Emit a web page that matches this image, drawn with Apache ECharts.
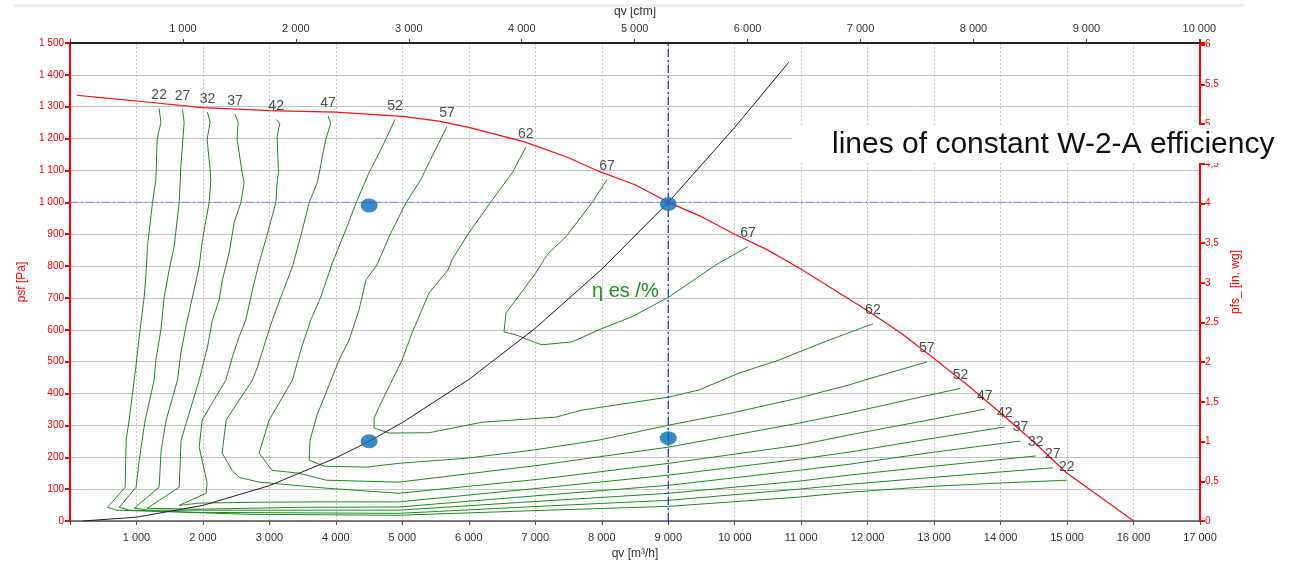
<!DOCTYPE html>
<html>
<head>
<meta charset="utf-8">
<script src="https://cdn.jsdelivr.net/npm/echarts@6/dist/echarts.min.js"></script>
<style>
html,body{margin:0;padding:0;background:#fff;}
#chart{width:1299px;height:561px;}
</style>
</head>
<body>
<div id="chart"></div>
<script>
// ---- data (qv in m3/h, psf in Pa) ----
const levels = [22, 27, 32, 37, 42, 47, 52, 57, 62, 67];

const c22 = [[1341,1295],[1367,1251],[1311,1197],[1292,1071],[1241,999],[1165,861],[1141,766],[1116,703],[1041,578],[991,483],[965,442],[890,317],[845,254],[830,106],[564,43],[695,34],[1191,31],[2695,21],[4950,18],[7056,33],[9011,46],[10966,75],[11718,90],[12996,109],[13973,119],[14996,128]];
const c27 = [[1692,1292],[1717,1251],[1668,1112],[1642,999],[1567,861],[1492,788],[1417,703],[1367,600],[1292,505],[1266,442],[1131,317],[1041,191],[995,106],[740,43],[890,34],[1943,27],[4950,24],[7056,46],[9011,65],[10966,100],[11718,115],[12996,137],[14785,167]];
const c32 = [[2068,1283],[2108,1251],[2063,1197],[2104,1112],[2119,1071],[2093,999],[1993,883],[1943,798],[1842,703],[1743,609],[1668,527],[1617,442],[1447,317],[1371,222],[1341,106],[965,40],[1191,34],[2695,34],[4950,34],[7056,62],[9011,87],[10966,125],[11718,144],[12996,172],[14529,204]];
const c37 = [[2484,1276],[2529,1251],[2514,1197],[2590,1093],[2620,1062],[2570,999],[2469,936],[2394,842],[2293,757],[2244,694],[2143,631],[2068,546],[1993,483],[1943,442],[1762,317],[1672,254],[1642,106],[1161,40],[1943,37],[3447,43],[4950,44],[7056,80],[9011,112],[10966,159],[11718,178],[12996,216],[14299,251]];
const c42 = [[3101,1260],[3156,1248],[3116,1207],[3135,1093],[3120,1071],[3096,999],[2946,883],[2845,810],[2744,725],[2645,631],[2544,578],[2444,515],[2344,442],[1988,317],[1943,232],[2063,119],[2048,87],[1642,49],[1943,56],[2845,59],[3898,60],[4950,60],[7056,103],[9011,144],[10966,194],[11718,216],[12996,260],[14064,295]];
const c47 = [[3883,1270],[3923,1248],[3848,1197],[3797,1144],[3722,1062],[3597,999],[3496,914],[3346,798],[3196,716],[3045,631],[2946,568],[2820,483],[2744,442],[2349,317],[2289,213],[2439,159],[2544,137],[2845,122],[3853,103],[4950,87],[7056,131],[9011,181],[10966,238],[11718,270],[12996,320],[13763,351]];
const c52 = [[4890,1260],[4699,1175],[4499,1093],[4323,1008],[4149,914],[3947,810],[3773,703],[3623,631],[3472,537],[3346,442],[2996,317],[2845,213],[3041,159],[3447,150],[3853,128],[4950,122],[7056,175],[9011,232],[10966,307],[11718,339],[12996,398],[13397,416]];
const c57 = [[5672,1238],[5447,1144],[5277,1071],[5056,999],[4800,892],[4620,804],[4454,757],[4349,663],[4199,568],[4048,505],[3898,427],[3717,332],[3612,254],[3597,191],[3823,172],[4454,169],[4950,181],[5958,197],[6951,222],[7958,254],[9011,301],[9958,339],[10966,386],[11718,427],[12064,449],[12891,499]];
const c62 = [[6856,1172],[6654,1093],[6354,1008],[6003,905],[5748,820],[5687,788],[5402,716],[5146,590],[4996,505],[4650,358],[4575,323],[4575,292],[4800,276],[5402,277],[6199,310],[7311,326],[7702,348],[9011,389],[9462,411],[10064,464],[10665,505],[11311,559],[12079,619]];
const c67 = [[8078,1071],[7853,999],[7462,892],[7206,842],[7131,820],[7011,779],[6560,653],[6529,593],[6710,584],[7011,559],[7101,553],[7552,562],[7958,600],[8454,641],[9011,703],[9718,804],[10199,861]];

const fanCurve = [[100,1336],[500,1328],[1000,1318],[2000,1297],[3000,1288],[4000,1283],[5000,1270],[5550,1255],[6000,1235],[6850,1189],[7500,1140],[7960,1097],[8500,1055],[9000,1000],[9500,955],[10000,900],[10500,850],[11000,790],[11500,725],[12000,660],[12500,590],[13000,510],[13500,427],[14000,339],[14500,248],[15000,150],[15500,75],[16000,0]];
const systemCurve = [[190,0],[1000,12],[2000,49],[3000,111],[4000,198],[4500,250],[5000,309],[6000,444],[7000,605],[8000,790],[9000,1000],[10000,1235],[10815,1440]];
const opPoints = [[4500,990],[9000,995],[4500,250],[9000,260]];
const refH = [[0,1000],[17000,1000]];
const refV = [[9000,0],[9000,1500]];

const CFM = 1.699;      // m3/h per cfm
const INWG = 249.09;    // Pa per in. wg

// ---- helpers ----
const contours = [c22, c27, c32, c37, c42, c47, c52, c57, c62, c67];
const FONT = 'Liberation Sans, Arial, sans-serif';
function thou(v){ return String(Math.round(v)).replace(/\B(?=(\d{3})+(?!\d))/g, ' '); }

const greenSeries = contours.map((c, i) => ({
  type: 'line', name: 'eta' + levels[i], data: c, showSymbol: false, symbol: 'none',
  lineStyle: { color: '#1e8c1e', width: 1 }, silent: true, z: 3
}));
const labelData = [];
contours.forEach((c, i) => {
  labelData.push({ value: c[0], name: String(levels[i]) });
  labelData.push({ value: c[c.length - 1], name: String(levels[i]) });
});

const chart = echarts.init(document.getElementById('chart'), null, { renderer: 'canvas' });
chart.setOption({
  animation: false,
  backgroundColor: '#fff',
  grid: { left: 70, right: 99, top: 43, bottom: 40, outerBoundsMode: 'none' },
  xAxis: [
    {
      type: 'value', position: 'bottom', min: 0, max: 17000, interval: 1000,
      name: 'qv [m³/h]', nameLocation: 'middle', nameGap: 26,
      nameTextStyle: { color: '#333', fontSize: 12, fontFamily: FONT },
      axisLine: { show: true, onZero: false, lineStyle: { color: '#555', width: 1.5 } },
      axisTick: { show: true, length: 4, lineStyle: { color: '#555' } },
      axisLabel: { color: '#333', fontSize: 11, fontFamily: FONT, margin: 11,
        formatter: v => (v === 0 || v % 1000 !== 0) ? '' : thou(v) },
      splitLine: { show: true, lineStyle: { color: '#c8c8c8', type: [2, 2], width: 1 } }
    },
    {
      type: 'value', position: 'top', min: 0, max: 17000 / CFM, interval: 1000,
      name: 'qv [cfm]', nameLocation: 'middle', nameGap: 23,
      nameTextStyle: { color: '#333', fontSize: 12, fontFamily: FONT },
      axisLine: { show: true, onZero: false, lineStyle: { color: '#222', width: 2 } },
      axisTick: { show: true, length: 4, lineStyle: { color: '#444' } },
      axisLabel: { color: '#333', fontSize: 11, fontFamily: FONT, margin: 9,
        formatter: v => (v === 0 || Math.abs(v % 1000) > 1e-6) ? '' : thou(v) },
      splitLine: { show: false }
    }
  ],
  yAxis: [
    {
      type: 'value', position: 'left', min: 0, max: 1500, interval: 100,
      name: 'psf [Pa]', nameLocation: 'middle', nameGap: 40, nameRotate: 90,
      nameTextStyle: { color: '#ff0000', fontSize: 12, fontFamily: FONT },
      axisLine: { show: true, onZero: false, lineStyle: { color: '#ff0000', width: 2 } },
      axisTick: { show: true, length: 5, lineStyle: { color: '#ff0000', width: 2 } },
      axisLabel: { color: '#ff0000', fontSize: 10, fontFamily: FONT, margin: 6, formatter: v => thou(v) },
      splitLine: { show: true, lineStyle: { color: '#c4c4c4', width: 1 } }
    },
    {
      type: 'value', position: 'right', min: 0, max: 1500 / INWG, interval: 0.5,
      name: 'pfs_ [in. wg]', nameLocation: 'middle', nameGap: 30, nameRotate: 90,
      nameTextStyle: { color: '#ff0000', fontSize: 12, fontFamily: FONT },
      axisLine: { show: true, onZero: false, lineStyle: { color: '#ff0000', width: 2 } },
      axisTick: { show: true, length: 5, lineStyle: { color: '#ff0000', width: 2 } },
      axisLabel: { color: '#ff0000', fontSize: 10, fontFamily: FONT, margin: 5,
        formatter: v => Math.abs(v * 2 - Math.round(v * 2)) > 1e-6 ? '' : String(Math.round(v * 2) / 2).replace('.', ',') },
      splitLine: { show: false }
    }
  ],
  graphic: [
    { type: 'rect', shape: { x: 14, y: 4, width: 1231, height: 3 }, style: { fill: '#f0f0f0' }, z: 1 },
    { type: 'rect', shape: { x: 792, y: 125, width: 507, height: 38 }, style: { fill: '#ffffff' }, z: 100 },
    { type: 'text', x: 832, y: 145, z: 101,
      style: { text: 'lines of constant W-2-A efficiency', fill: '#111', font: '30px ' + FONT, textVerticalAlign: 'middle' } },
    { type: 'text', x: 592, y: 291, z: 50,
      style: { text: 'η es /%', fill: '#1f8f1f', font: '20px ' + FONT, textVerticalAlign: 'middle' } }
  ],
  series: [
    ...greenSeries,
    { type: 'line', name: 'refH', data: refH, showSymbol: false, symbol: 'none', silent: true, z: 4,
      lineStyle: { color: '#7f7fff', width: 1, type: [8, 3, 2, 3] } },
    { type: 'line', name: 'refV', data: refV, showSymbol: false, symbol: 'none', silent: true, z: 4,
      lineStyle: { color: '#1a1aff', width: 1.2, type: [8, 3, 2, 3] } },
    { type: 'line', name: 'fan', data: fanCurve, showSymbol: false, symbol: 'none', silent: true, z: 5,
      lineStyle: { color: '#ff1010', width: 1.2 } },
    { type: 'line', name: 'system', data: systemCurve, showSymbol: false, symbol: 'none', silent: true, z: 5,
      smooth: false, lineStyle: { color: '#222', width: 1 } },
    { type: 'scatter', name: 'labels', data: labelData, symbolSize: 1, silent: true, z: 6,
      itemStyle: { color: 'rgba(0,0,0,0)' },
      label: { show: true, position: 'top', distance: 6, formatter: p => p.name,
        color: '#222', fontSize: 14, fontFamily: FONT } },
    { type: 'scatter', name: 'op', data: opPoints, symbol: 'circle', symbolSize: [17, 14], silent: true, z: 10,
      itemStyle: { color: '#0b6db4' } }
  ]
});
</script>
</body>
</html>
